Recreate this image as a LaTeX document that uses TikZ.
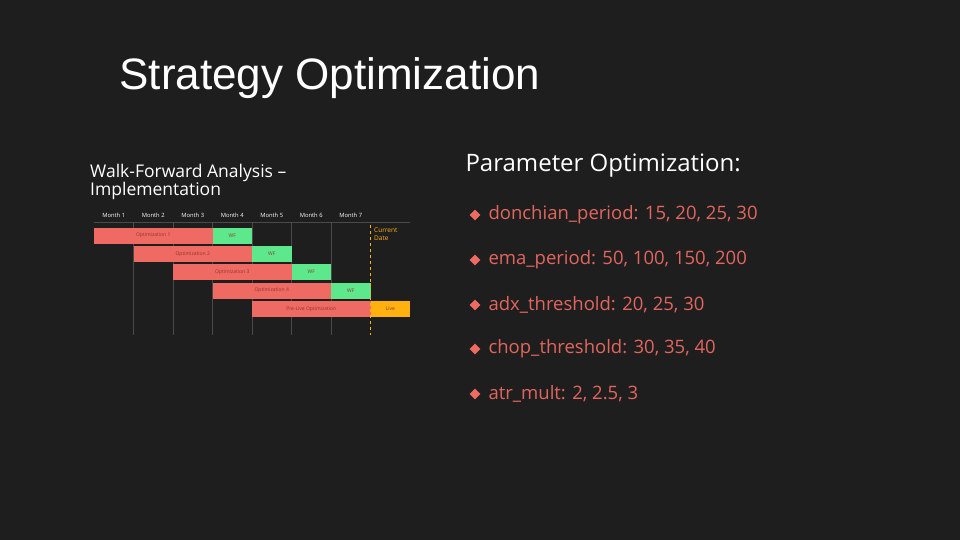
\documentclass[tikz,border=0pt]{standalone}
\usepackage{fontspec}
\setmainfont{Open Sans}
\newfontfamily\titlefont{Liberation Sans}
\usetikzlibrary{shapes.geometric}
\definecolor{slidebg}{HTML}{1E1E1E}
\definecolor{optred}{HTML}{EE6A62}
\definecolor{wfgreen}{HTML}{5EE88C}
\definecolor{livegold}{HTML}{FFB20F}
\definecolor{gridgray}{HTML}{4A4A4A}
\definecolor{bartext}{HTML}{8E3631}
\definecolor{paramred}{HTML}{E2665E}
\tikzset{
  bar/.style={inner sep=0, outer sep=0, minimum height=16pt, text=bartext, font=\fontsize{5}{6}\selectfont},
  optbar/.style={bar, fill=optred, minimum width=118.5pt},
  wfbar/.style={bar, fill=wfgreen, minimum width=39.5pt},
  month/.style={text=white, font=\fontsize{5.8}{6}\selectfont},
  param/.style={anchor=west, text=paramred, font=\fontsize{18.5}{22}\selectfont},
  bullet/.style={diamond, fill=optred, inner sep=0, minimum size=11pt}
}
\begin{document}
\begin{tikzpicture}[x=1pt, y=-1pt]
        \fill[slidebg] (0, 0) rectangle (960, 540);
        \useasboundingbox (0, 0) rectangle (960, 540);
        \node[anchor=west, text=white, font=\titlefont\fontsize{44}{50}\selectfont] at (116, 78) (title) {Strategy Optimization};
        % chart
        \node[anchor=north west, align=left, inner sep=0, text=white, font=\fontsize{17.5}{17}\selectfont] at (90, 164) (charttitle) {Walk-Forward Analysis --\\Implementation};
        \node[month] at (113.75, 215) (m1) {Month 1};
        \node[month] at (153.25, 215) (m2) {Month 2};
        \node[month] at (192.75, 215) (m3) {Month 3};
        \node[month] at (232.25, 215) (m4) {Month 4};
        \node[month] at (271.75, 215) (m5) {Month 5};
        \node[month] at (311.25, 215) (m6) {Month 6};
        \node[month] at (350.75, 215) (m7) {Month 7};
        \draw[gridgray, line width=0.8pt] (94, 222) -- (410, 222);
        \draw[gridgray, line width=0.8pt] (133.5, 222) -- (133.5, 335);
        \draw[gridgray, line width=0.8pt] (173, 222) -- (173, 335);
        \draw[gridgray, line width=0.8pt] (212.5, 222) -- (212.5, 335);
        \draw[gridgray, line width=0.8pt] (252, 222) -- (252, 335);
        \draw[gridgray, line width=0.8pt] (291.5, 222) -- (291.5, 335);
        \draw[gridgray, line width=0.8pt] (331, 222) -- (331, 335);
        \node[optbar] at (153.25, 235.5) (opt1) {Optimization 1};
        \node[wfbar] at (232.25, 235.5) (wf1) {WF};
        \node[optbar] at (192.75, 254) (opt2) {Optimization 2};
        \node[wfbar] at (271.75, 254) (wf2) {WF};
        \node[optbar] at (232.25, 272) (opt3) {Optimization 3};
        \node[wfbar] at (311.25, 272) (wf3) {WF};
        \node[optbar] at (271.75, 290.5) (opt4) {Optimization 4};
        \node[wfbar] at (350.75, 290.5) (wf4) {WF};
        \node[optbar] at (311.25, 309) (prelive) {Pre-Live Optimization};
        \node[wfbar, fill=livegold, text=bartext] at (390.25, 309) (live) {Live};
        \coordinate (datetop) at (370.5, 225);
        \coordinate (datebot) at (370.5, 335);
        \draw[livegold, dashed, line width=1pt] (datetop) -- (datebot);
        \node[anchor=north west, align=left, inner sep=0, text=livegold, font=\fontsize{6.5}{7.5}\selectfont] at (374, 228) (curdate) {Current\\Date};
        % parameters
        \node[anchor=west, text=white, font=\fontsize{24}{28}\selectfont] at (462, 166) (paramhead) {Parameter Optimization:};
        \node[bullet] at (475, 215) (b1) {};
        \node[param] at (485, 215) (p1) {donchian\_period: 15, 20, 25, 30};
        \node[bullet] at (475, 260) (b2) {};
        \node[param] at (485, 260) (p2) {ema\_period: 50, 100, 150, 200};
        \node[bullet] at (475, 305) (b3) {};
        \node[param] at (485, 305) (p3) {adx\_threshold: 20, 25, 30};
        \node[bullet] at (475, 349) (b4) {};
        \node[param] at (485, 349) (p4) {chop\_threshold: 30, 35, 40};
        \node[bullet] at (475, 394) (b5) {};
        \node[param] at (485, 394) (p5) {atr\_mult: 2, 2.5, 3};
    \end{tikzpicture}
\end{document}
